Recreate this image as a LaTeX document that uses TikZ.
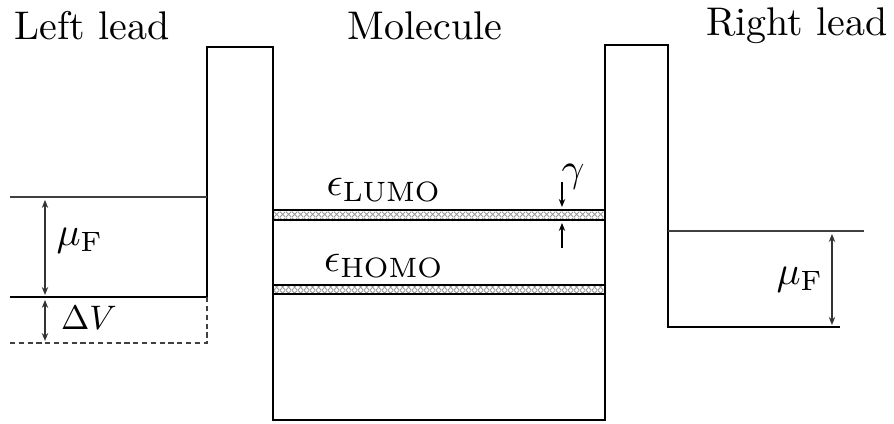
\documentclass[tikz,border=0pt]{standalone}
\usetikzlibrary{patterns.meta,arrows.meta}
\tikzdeclarepattern{name=finehatch, type=uncolored,
  bounding box={(0,0) and (1.4pt,1.4pt)}, tile size={(1.4pt,1.4pt)},
  code={\draw[line width=0.22pt] (0,0) -- (1.4pt,1.4pt) (0,1.4pt) -- (1.4pt,0);}}
\begin{document}
\begin{tikzpicture}[x=0.25pt,y=-0.25pt,
  thickline/.style={line width=0.7pt},
  thinline/.style={line width=0.3pt,black!75},
  dim/.style={line width=0.3pt,black!80,{Stealth[length=2pt,width=1.6pt]}-{Stealth[length=2pt,width=1.6pt]}},
  onearrow/.style={line width=0.3pt,-{Stealth[length=2pt,width=1.6pt]}},
  band/.style={pattern=finehatch,pattern color=gray!80},
  lbl/.style={inner sep=0pt}]
\useasboundingbox (0,0) rectangle (894,424);
% coordinates of the potential profile
\coordinate (L0) at (10,297);
\coordinate (L1) at (207,297);
\coordinate (L2) at (207,47);
\coordinate (L3) at (273,47);
\coordinate (M0) at (273,420);
\coordinate (M1) at (605,420);
\coordinate (R0) at (605,45);
\coordinate (R1) at (668,45);
\coordinate (R2) at (668,327);
\coordinate (R3) at (840,327);
% bands
\coordinate (LU0) at (273,210);
\coordinate (LU1) at (605,220);
\coordinate (HO0) at (273,285);
\coordinate (HO1) at (605,294);
\path[band] (LU0) rectangle (LU1);
\draw[thickline] (LU0) -- (LU0 -| LU1) (LU0 |- LU1) -- (LU1);
\path[band] (HO0) rectangle (HO1);
\draw[thickline] (HO0) -- (HO0 -| HO1) (HO0 |- HO1) -- (HO1);
\draw[thickline,line join=miter] (L0) -- (L1) -- (L2) -- (L3) -- (M0) -- (M1) -- (R0) -- (R1) -- (R2) -- (R3);
% Fermi levels
\coordinate (LF0) at (10,197);
\coordinate (LF1) at (207,197);
\draw[thinline] (LF0) -- (LF1);
\coordinate (RF0) at (668,231);
\coordinate (RF1) at (864,231);
\draw[thinline] (RF0) -- (RF1);
% dashed bias level
\coordinate (D0) at (10,343);
\coordinate (D1) at (207,343);
\draw[thinline,dash pattern=on 1.3pt off 0.9pt] (D0) -- (D1) -- (L1);
% dimension arrows
\coordinate (a1) at (45,200);
\coordinate (a2) at (45,295);
\draw[dim] (a1) -- (a2);
\coordinate (b1) at (45,300);
\coordinate (b2) at (45,341);
\draw[dim] (b1) -- (b2);
\coordinate (c1) at (832,234);
\coordinate (c2) at (832,325);
\draw[dim] (c1) -- (c2);
\coordinate (g1) at (562,182);
\coordinate (g2) at (562,207);
\draw[onearrow] (g1) -- (g2);
\coordinate (g3) at (562,248);
\coordinate (g4) at (562,223);
\draw[onearrow] (g3) -- (g4);
% labels
\node[lbl] (tl) at (92,26) {Left lead};
\node[lbl] (tm) at (425,26) {Molecule};
\node[lbl] (tr) at (797,26) {Right lead};
\node[lbl] (muL) at (80,241) {$\mu_{\mathrm{F}}$};
\node[lbl,scale=0.85] (dV) at (89,318) {$\Delta V$};
\node[lbl] (muR) at (800,280) {$\mu_{\mathrm{F}}$};
\node[lbl] (lumo) at (384,190) {$\epsilon_{\mathrm{LUMO}}$};
\node[lbl] (homo) at (384,266) {$\epsilon_{\mathrm{HOMO}}$};
\node[lbl] (gam) at (573,177) {$\gamma$};
\end{tikzpicture}
\end{document}
